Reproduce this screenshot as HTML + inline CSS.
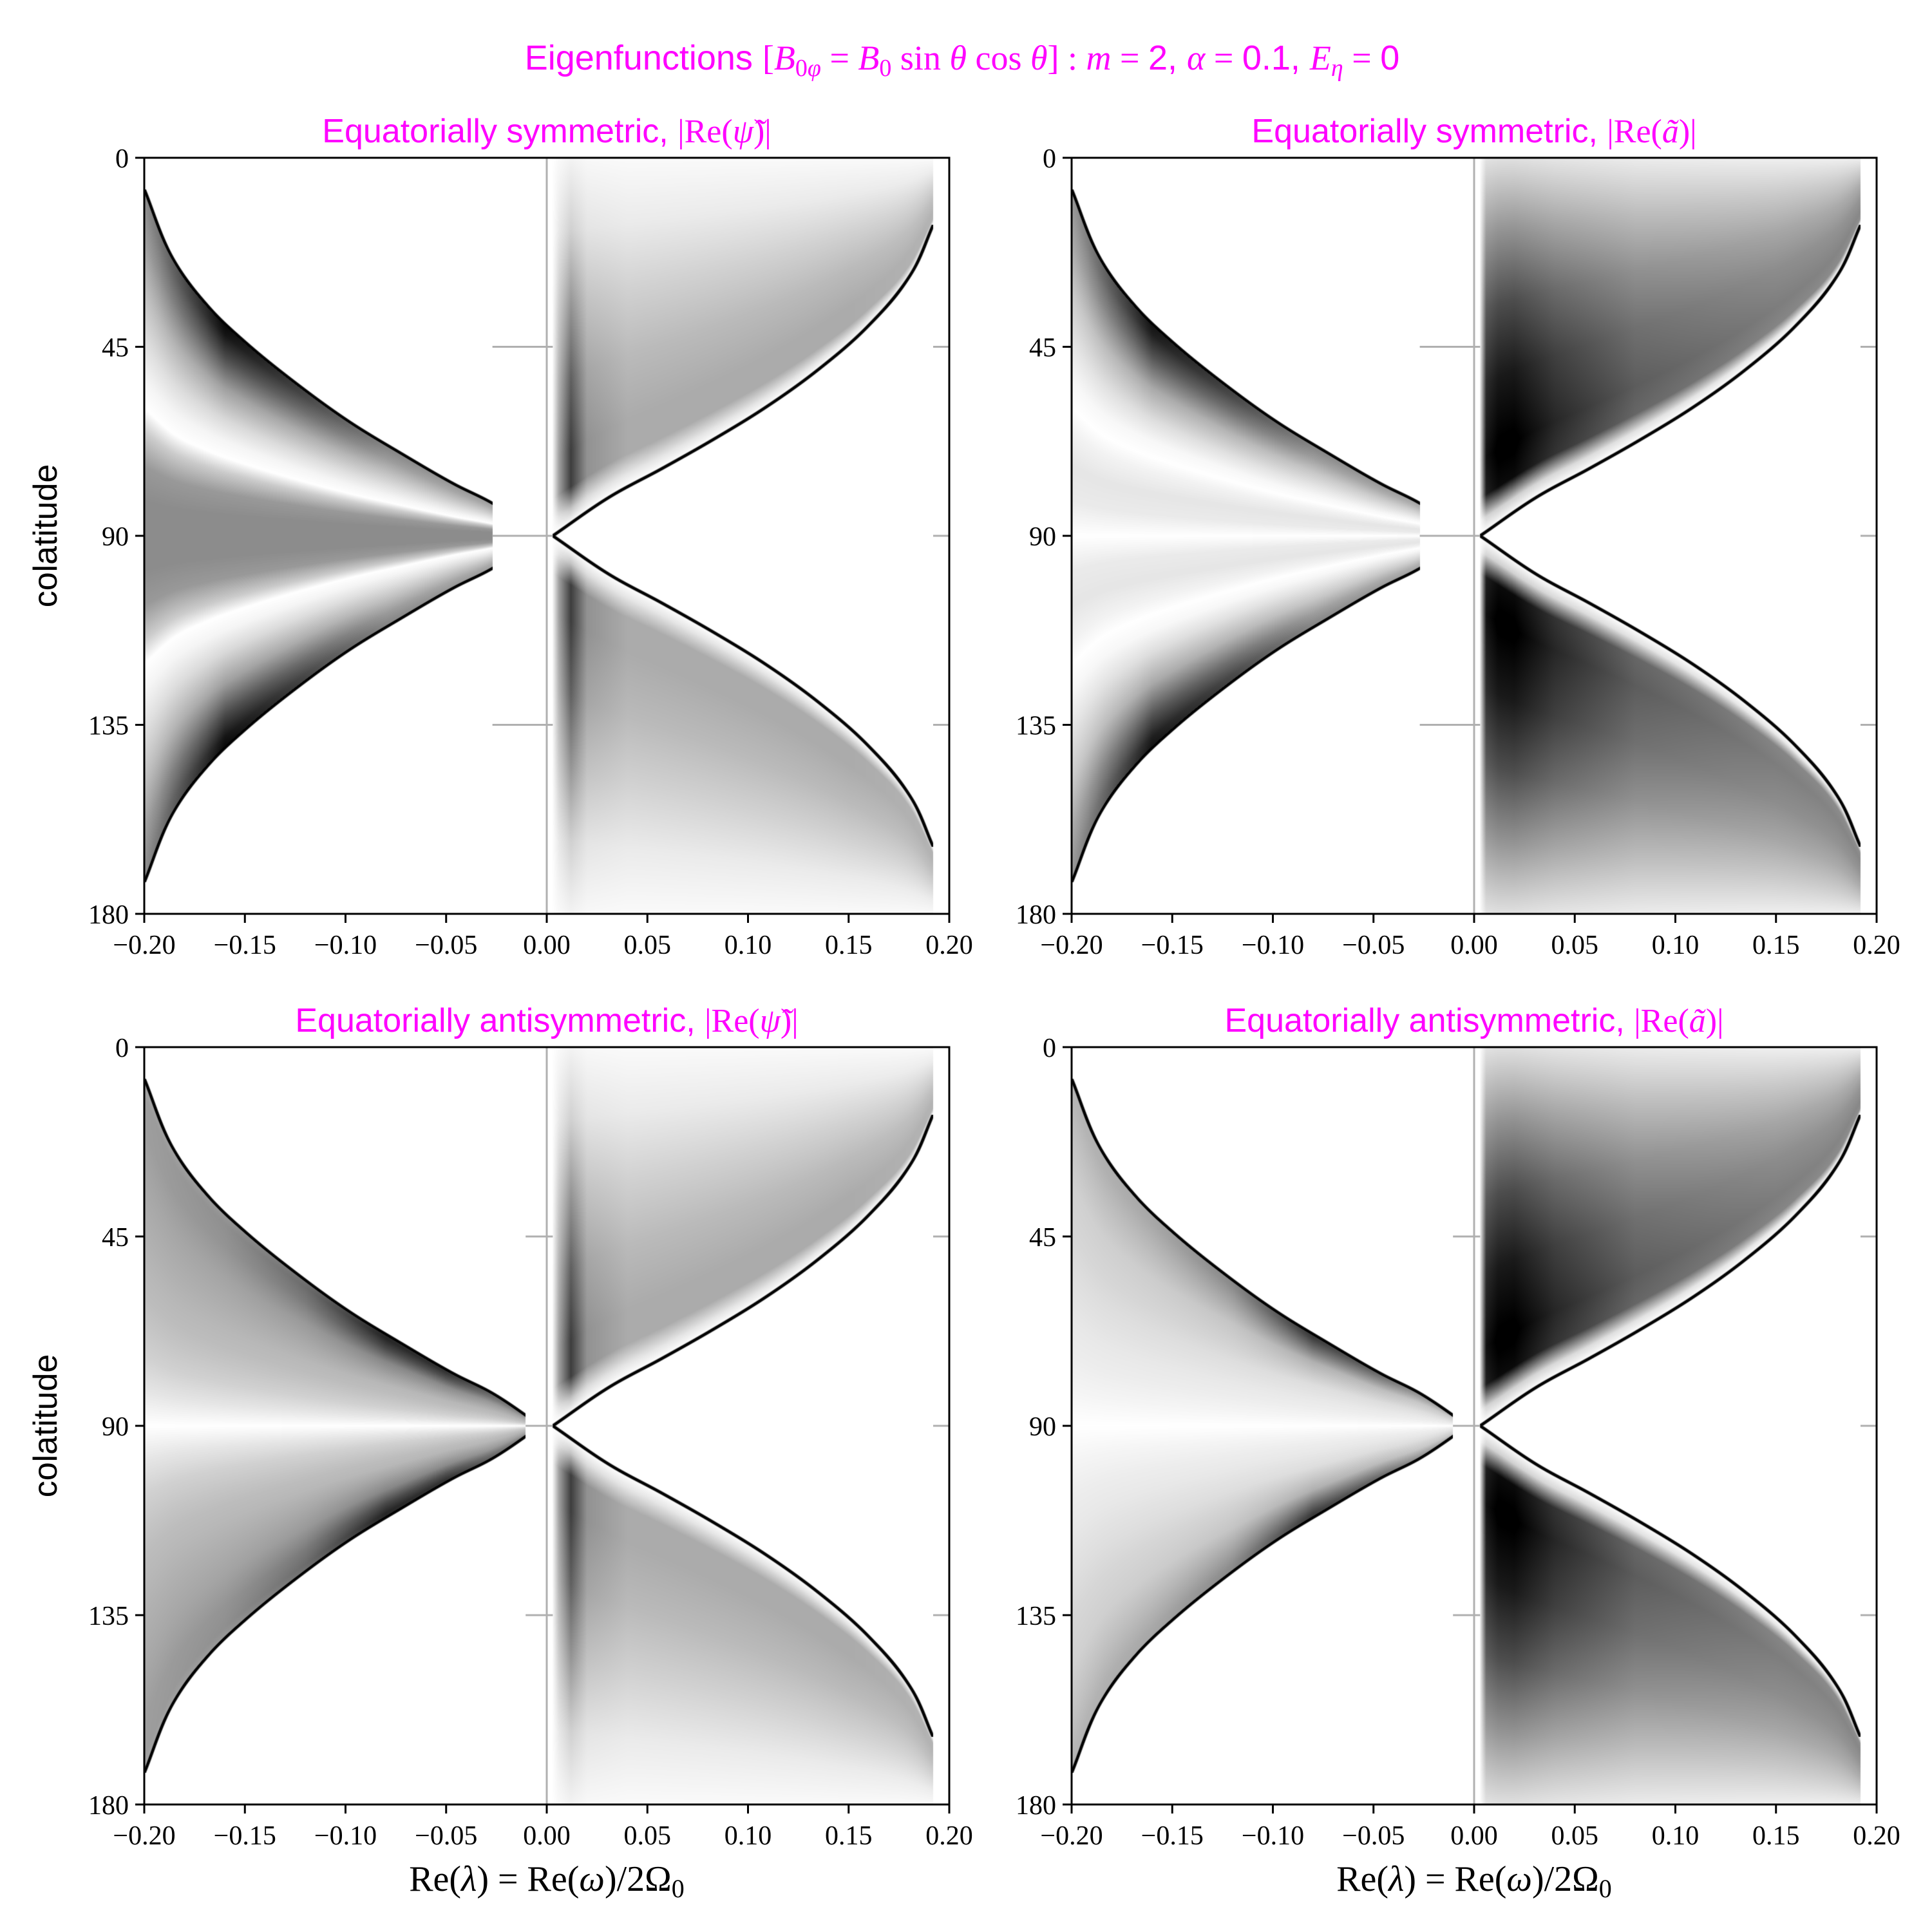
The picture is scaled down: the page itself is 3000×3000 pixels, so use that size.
<!DOCTYPE html>
<html><head><meta charset="utf-8"><style>
html,body{margin:0;padding:0;background:#fff;}
#root{position:relative;width:3000px;height:3000px;overflow:hidden;background:#fff;}
canvas{position:absolute;}
svg{position:absolute;left:0;top:0;}
.tk{font-family:"Liberation Serif",serif;font-size:42px;fill:#000;}
.mg{font-family:"Liberation Sans",sans-serif;fill:#ff00ff;}
.mi{font-family:"Liberation Serif",serif;font-style:italic;}
.mr{font-family:"Liberation Serif",serif;}
</style></head><body>
<div id="root">
<canvas id="c0"></canvas>
<canvas id="c1"></canvas>
<canvas id="c2"></canvas>
<canvas id="c3"></canvas>
<svg id="ov" width="3000" height="3000">
<text x="1494" y="108" text-anchor="middle" class="mg" font-size="54">Eigenfunctions <tspan class="mr">[</tspan><tspan class="mi">B</tspan><tspan class="mr" font-size="38" dy="10">0</tspan><tspan class="mi" font-size="38">φ</tspan><tspan class="mr" dy="-10"> = </tspan><tspan class="mi">B</tspan><tspan class="mr" font-size="38" dy="10">0</tspan><tspan class="mr" dy="-10"> sin </tspan><tspan class="mi">θ</tspan><tspan class="mr"> cos </tspan><tspan class="mi">θ</tspan><tspan class="mr">] : </tspan><tspan class="mi">m</tspan><tspan class="mr"> = </tspan>2, <tspan class="mi">α</tspan><tspan class="mr"> = </tspan>0.1, <tspan class="mi">E</tspan><tspan class="mi" font-size="38" dy="10">η</tspan><tspan class="mr" dy="-10"> = </tspan>0</text>
</svg>
</div>
<script>
// ---- data: eigenvalue curves (colatitude deg vs Re(lambda)) ----
const curveLTheta=[7.5,24,35.7,44,54,62.9,70.5,77.7,82.3,90];
const curveLLam=[-0.2,-0.1858,-0.1677,-0.1496,-0.1238,-0.098,-0.072,-0.046,-0.0269,-0.003];
const curveRLam=[0.003,0.0314,0.0572,0.083,0.1088,0.1347,0.160,0.1812,0.192];
const curveRTheta=[90,80.7,74,67,59.4,50.5,39.9,27.5,16];
// profile coordinates
const uGrid=[0,0.05,0.15,0.3,0.45,0.55,0.63,0.7,0.8,0.9,1];
const vGrid=[0,0.2,0.4,0.6,0.8,0.9,0.96,1];
const colLGrid=[-0.2,-0.16,-0.12,-0.08,-0.05,-0.01];
const colRGrid=[0.003,0.006,0.012,0.02,0.04,0.08,0.15,0.192];
// per panel darkness arrays (base + near-curve)
const leftBaseSymPsi=[0.22,0.22,0.22,0.18,0.1,0.04,0.0,0.2,0.4,0.45,0.45];
const leftNearSymPsi=[0.75,0.7,0.5,0.2,0.05,0,0,0,0,0,0];
const leftColSymPsi=[0.3,1,0.7,0.35,0.25,0.2];
const leftBaseSymA=[0.18,0.18,0.18,0.14,0.08,0.03,0,0.05,0.1,0.08,0];
const leftNearSymA=[0.75,0.7,0.5,0.2,0.05,0,0,0,0,0,0];
const leftColSymA=[0.3,1,0.75,0.4,0.3,0.2];
const leftBaseAntiPsi=[0.25,0.3,0.32,0.32,0.3,0.28,0.26,0.23,0.18,0.1,0];
const leftNearAntiPsi=[0.6,0.55,0.4,0.15,0.05,0,0,0,0,0,0];
const leftColAntiPsi=[0.15,0.25,0.5,1.0,0.9,0.3];
const leftBaseAntiA=[0.2,0.2,0.18,0.16,0.15,0.13,0.11,0.09,0.07,0.04,0];
const leftNearAntiA=[0.6,0.55,0.4,0.15,0.05,0,0,0,0,0,0];
const leftColAntiA=[0.15,0.25,0.45,1.0,0.7,0.2];
const rightProfPsi=[0.02,0.08,0.18,0.27,0.33,0.33,0.1,0];
const rightColPsi=[0.1,1.1,2.3,1.3,1.0,1.0,1.0,0.9];
const rightProfA=[0.1,0.35,0.58,0.75,0.85,0.8,0.15,0];
const rightColA=[0.1,1.1,1.2,1.2,1.0,0.75,0.6,0.55];
const gapStart=[-0.027,-0.027,-0.0105,-0.0105];
const gapEnd=[0.003,0.003,0.003,0.003];
const xTicks=[-0.2,-0.15,-0.1,-0.05,0,0.05,0.1,0.15,0.2];
const xTickLabels=["−0.20","−0.15","−0.10","−0.05","0.00","0.05","0.10","0.15","0.20"];
const yTicks=[0,45,90,135,180];
const panelTitles=["Equatorially symmetric, ","Equatorially symmetric, ","Equatorially antisymmetric, ","Equatorially antisymmetric, "];
const panelVars=["ψ̃","ã","ψ̃","ã"];

const panels=[
 {x:224,y:245,w:1250,h:1174,lb:leftBaseSymPsi,ln:leftNearSymPsi,lc:leftColSymPsi,rp:rightProfPsi,rc:rightColPsi},
 {x:1664,y:245,w:1250,h:1174,lb:leftBaseSymA,ln:leftNearSymA,lc:leftColSymA,rp:rightProfA,rc:rightColA},
 {x:224,y:1626,w:1250,h:1176,lb:leftBaseAntiPsi,ln:leftNearAntiPsi,lc:leftColAntiPsi,rp:rightProfPsi,rc:rightColPsi},
 {x:1664,y:1626,w:1250,h:1176,lb:leftBaseAntiA,ln:leftNearAntiA,lc:leftColAntiA,rp:rightProfA,rc:rightColA}
];
function interp(xs,ys,x){
  if(x<=xs[0])return ys[0];
  const n=xs.length;
  if(x>=xs[n-1])return ys[n-1];
  for(let i=1;i<n;i++){if(x<=xs[i]){const t=(x-xs[i-1])/(xs[i]-xs[i-1]);return ys[i-1]+t*(ys[i]-ys[i-1]);}}
  return ys[n-1];
}
// monotone cubic (Fritsch-Carlson) for smooth curves
function makeSpline(xs,ys){
  const n=xs.length,dl=[],m=new Array(n);
  for(let i=0;i<n-1;i++)dl.push((ys[i+1]-ys[i])/(xs[i+1]-xs[i]));
  m[0]=dl[0];m[n-1]=dl[n-2];
  for(let i=1;i<n-1;i++){m[i]=(dl[i-1]*dl[i]<=0)?0:(dl[i-1]+dl[i])/2;}
  for(let i=0;i<n-1;i++){if(dl[i]===0){m[i]=m[i+1]=0;continue;}const a=m[i]/dl[i],b=m[i+1]/dl[i],s=a*a+b*b;if(s>9){const t=3/Math.sqrt(s);m[i]=t*a*dl[i];m[i+1]=t*b*dl[i];}}
  return function(x){
    if(x<=xs[0])return ys[0];if(x>=xs[n-1])return ys[n-1];
    let i=0;while(x>xs[i+1])i++;
    const h=xs[i+1]-xs[i],t=(x-xs[i])/h,t2=t*t,t3=t2*t;
    return (2*t3-3*t2+1)*ys[i]+(t3-2*t2+t)*h*m[i]+(-2*t3+3*t2)*ys[i+1]+(t3-t2)*h*m[i+1];
  };
}
const curveRLamRev=curveRLam.slice().reverse(), curveRThetaRev=curveRTheta.slice().reverse();
const tLfun=makeSpline(curveLLam,curveLTheta), lamLfun=makeSpline(curveLTheta,curveLLam);
const tRfun=makeSpline(curveRLam,curveRTheta), lamRfun=makeSpline(curveRThetaRev,curveRLamRev);
function lineDist(a,b){if(!isFinite(a)||!isFinite(b))return 1e9;const s=Math.sqrt(a*a+b*b);return s<1e-9?0:Math.abs(a*b)/s;}
function lineDk(dk,dist){if(dist<1.6)return 1;if(dist<3.2)return Math.max(dk,1-(dist-1.6)/1.6);return dk;}

panels.forEach((p,k)=>{
  const cv=document.getElementById('c'+k);
  cv.width=p.w;cv.height=p.h;cv.style.left=p.x+'px';cv.style.top=p.y+'px';
  const ctx=cv.getContext('2d');
  const img=ctx.createImageData(p.w,p.h);const d=img.data;
  const sx=p.w/0.4, sy=p.h/180;
  for(let j=0;j<p.h;j++){
    const th=(j+0.5)/sy; const ph=th<=90?th:180-th;
    const lamLph=ph>=curveLTheta[0]?lamLfun(ph):NaN;
    const lamRph=ph>=curveRThetaRev[0]?lamRfun(ph):NaN;
    for(let i=0;i<p.w;i++){
      const lam=-0.2+(i+0.5)/sx; let dk=0;
      if(lam<gapStart[k]){
        const t=tLfun(lam);
        const dist=lineDist((ph-t)*sy,(lam-lamLph)*sx);
        if(ph<t){dk=0;}
        else{const u=(ph-t)/Math.max(90-t,1e-3);dk=interp(uGrid,p.lb,u)+interp(uGrid,p.ln,u)*interp(colLGrid,p.lc,lam);}
        dk=lineDk(dk,dist);
      } else if(lam>gapEnd[k] && lam<0.192){
        const t=tRfun(lam);
        const dist=lineDist((ph-t)*sy,(lam-lamRph)*sx);
        if(ph<t){const v=ph/t;dk=interp(vGrid,p.rp,v)*interp(colRGrid,p.rc,lam);}
        else{dk=0;}
        dk=lineDk(dk,dist);
      }
      dk=Math.max(0,Math.min(1,dk));
      const g=Math.round(255*(1-dk));const o=(j*p.w+i)*4;
      d[o]=g;d[o+1]=g;d[o+2]=g;d[o+3]=255;
    }
  }
  ctx.putImageData(img,0,0);
});

const NS='http://www.w3.org/2000/svg';
const ov=document.getElementById('ov');
function el(tag,attrs,parent){const e=document.createElementNS(NS,tag);for(const a in attrs)e.setAttribute(a,attrs[a]);(parent||ov).appendChild(e);return e;}
panels.forEach((p,k)=>{
  const sx=p.w/0.4, sy=p.h/180;
  const X=v=>p.x+(v+0.2)*sx, Y=v=>p.y+v*sy;
  const g=el('g',{});
  
  
  const vl=el('line',{x1:X(0),x2:X(0),y1:p.y,y2:p.y+p.h,stroke:'#b0b0b0','stroke-width':3},g);
  
  
  [45,90,135].forEach(t=>{
    const h1=el('line',{x1:X(gapStart[k]),x2:X(gapEnd[k]),y1:Y(t),y2:Y(t),stroke:'#b0b0b0','stroke-width':3},g);
    
    
    const h2=el('line',{x1:X(0.192),x2:X(0.2),y1:Y(t),y2:Y(t),stroke:'#b0b0b0','stroke-width':3},g);
    
    
  });
  const fr=el('rect',{x:p.x,y:p.y,width:p.w,height:p.h,fill:'none',stroke:'#000','stroke-width':3},g);
  
  
  xTicks.forEach((v,i)=>{
    el('line',{x1:X(v),x2:X(v),y1:p.y+p.h,y2:p.y+p.h+14,stroke:'#000','stroke-width':3},g);
    const t=el('text',{x:X(v),y:p.y+p.h+62,'text-anchor':'middle',class:'tk'},g);
    t.textContent=xTickLabels[i];
    
    
  });
  yTicks.forEach(v=>{
    el('line',{x1:p.x-14,x2:p.x,y1:Y(v),y2:Y(v),stroke:'#000','stroke-width':3},g);
    const t=el('text',{x:p.x-24,y:Y(v)+15,'text-anchor':'end',class:'tk'},g);
    t.textContent=String(v);
    
    
  });
  const tt=el('text',{x:p.x+p.w/2,y:p.y-24,'text-anchor':'middle',class:'mg','font-size':52},g);
  
  
  tt.appendChild(document.createTextNode(panelTitles[k]));
  const ts=el('tspan',{class:'mr'},tt);ts.textContent='|Re(';
  const ts2=el('tspan',{class:'mi'},tt);ts2.textContent=panelVars[k];
  const ts3=el('tspan',{class:'mr'},tt);ts3.textContent=')|';
  if(p.x<1000){
    const yl=el('text',{x:0,y:0,transform:`translate(88,${p.y+p.h/2}) rotate(-90)`,'text-anchor':'middle','font-size':52,'font-family':'Liberation Sans, sans-serif'},g);
    yl.textContent='colatitude';
    
    
  }
  if(p.y>1000){
    const xl=el('text',{x:p.x+p.w/2,y:2936,'text-anchor':'middle','font-size':56,class:'mr'},g);
    
    
    xl.appendChild(document.createTextNode('Re('));
    const a=el('tspan',{class:'mi'},xl);a.textContent='λ';
    xl.appendChild(document.createTextNode(') = Re('));
    const b=el('tspan',{class:'mi'},xl);b.textContent='ω';
    xl.appendChild(document.createTextNode(')/2Ω'));
    const c=el('tspan',{'font-size':40,dy:10},xl);c.textContent='0';
  }
});
</script>
</body></html>
